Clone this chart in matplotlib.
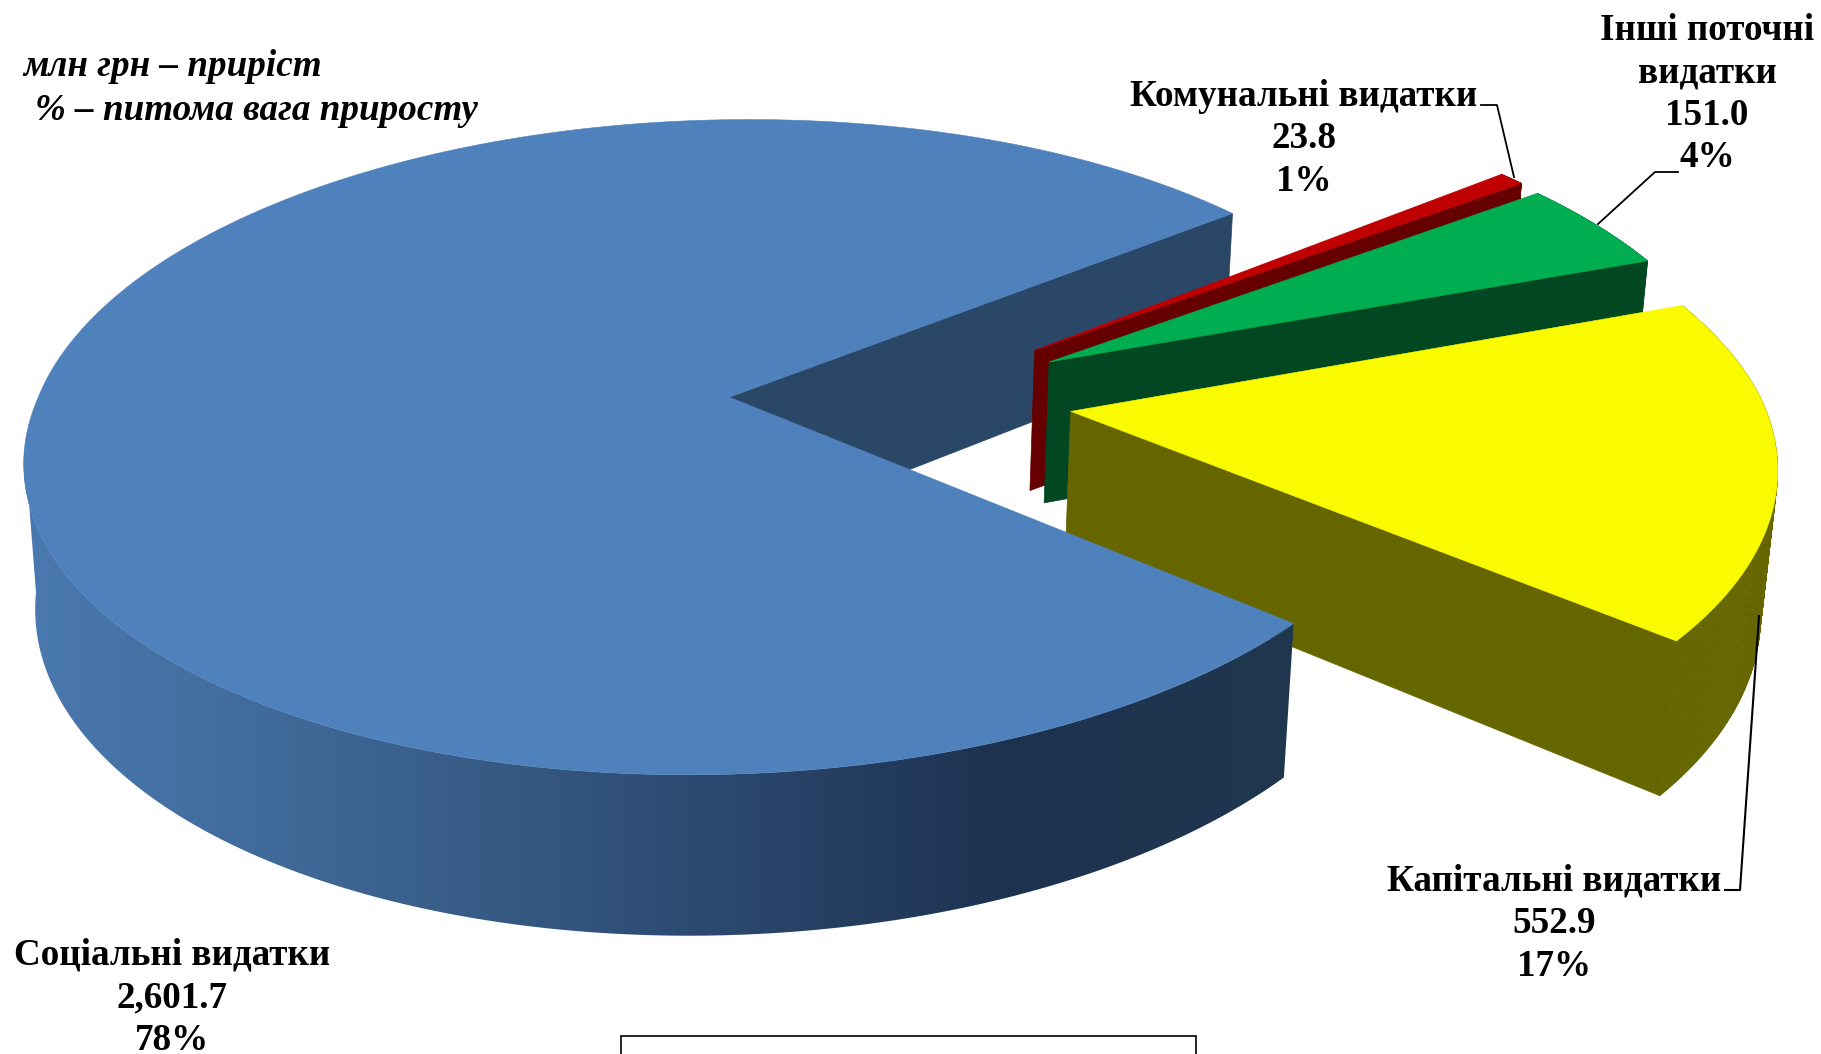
import numpy as np
import matplotlib
matplotlib.use('Agg')
import matplotlib.pyplot as plt
from matplotlib.colors import to_rgb
from matplotlib.patches import Polygon, Rectangle

plt.rcParams['font.family'] = ['Liberation Serif', 'DejaVu Serif']

# Дані діаграми
categorias = ['Соціальні видатки', 'Капітальні видатки', 'Інші поточні\nвидатки', 'Комунальні видатки']
valores = [2601.7, 552.9, 151.0, 23.8]
percentuais = [78, 17, 4, 1]

cores_topo = ['#4f81bd', '#fafa00', '#00ad50', '#c00000']
cores_lado = ['#2b4768', '#666600', '#004722', '#660000']

# deslocamento de cada fatia no plano do disco
explosao = [(0.0, 0.0), (0.493, -0.044), (0.467, 0.112), (0.447, 0.150)]
angulo_inicial = 39.0

# parametros da projecao (pixels)
W, H = 1821, 1054
CX, CY = 729.3, 397.2
RX, RY = 691.0, 320.0
SHEAR_FUNDO, SHEAR_FRENTE, ALTURA = 23.0, 35.0, 145.0
K, M = 0.1525, 0.016


def projetar(x, y, z=0.0):
    x = np.asarray(x, dtype=float)
    y = np.asarray(y, dtype=float)
    s = 1.0 / (1.0 + K * y + M * z)
    shear = np.where(y < 0, SHEAR_FRENTE, SHEAR_FUNDO)
    return np.column_stack([CX + (RX * x + shear * y) * s, CY + (-RY * y + ALTURA * z) * s])


def arco(ini, fim, centro, n=160):
    t = np.radians(np.linspace(ini, fim, n))
    return centro[0] + np.cos(t), centro[1] + np.sin(t)


def parede(xs, ys, cor, ax, zorder):
    # um quadrilatero por trecho, assim a silhueta fecha nas tangentes
    topo = projetar(xs, ys, 0.0)
    baixo = projetar(xs, ys, 1.0)
    for j in range(len(topo) - 1):
        quad = [topo[j], topo[j + 1], baixo[j + 1], baixo[j]]
        ax.add_patch(Polygon(quad, closed=True, facecolor=cor, edgecolor=cor, lw=0.5, zorder=zorder))


fig = plt.figure(figsize=(W / 100, H / 100), dpi=100)
ax = fig.add_axes([0, 0, 1, 1])
ax.axis('off')

# angulos saem dos valores
total = sum(valores)
spans = [v / total * 360 for v in valores]
inicios = [angulo_inicial + sum(spans[:i]) for i in range(len(spans))]

z = 1
# parede interna da fatia principal
cx0, cy0 = explosao[0]
ex, ey = arco(inicios[0], inicios[0], explosao[0], 1)
parede([cx0, ex[0]], [cy0, ey[0]], cores_lado[0], ax, z)

# fatias destacadas, de tras para a frente
for i in [3, 2, 1]:
    z += 1
    c = explosao[i]
    ini, fim = inicios[i], inicios[i] + spans[i]
    ax_x, ax_y = arco(ini, fim, c)
    parede(ax_x, ax_y, cores_lado[i], ax, z)
    parede([c[0], ax_x[0]], [c[1], ax_y[0]], cores_lado[i], ax, z)
    pts = projetar(np.r_[c[0], ax_x], np.r_[c[1], ax_y])
    ax.add_patch(Polygon(pts, closed=True, facecolor=cores_topo[i], edgecolor=cores_topo[i], lw=0.4, zorder=z))

# parede externa com gradiente horizontal, a partir da tangente esquerda
z += 1
gradiente = [(26, '#4a79b0'), (350, '#3d6592'), (700, '#2c4a70'), (1000, '#1d3250'), (1290, '#20374f')]
ini, fim = inicios[0], inicios[0] + spans[0]
tangente = 180 + np.degrees(np.arcsin(K))
fx, fy = arco(max(ini, tangente), fim, explosao[0], 500)
topo = projetar(fx, fy, 0.0)
baixo = projetar(fx, fy, 1.0)
contorno = Polygon(np.vstack([topo, baixo[::-1]]), closed=True, transform=ax.transData, facecolor='none', edgecolor='none')
ax.add_patch(contorno)
xs_grad = np.arange(0, 1300)
faixa = np.stack([np.interp(xs_grad, [p[0] for p in gradiente], [to_rgb(p[1])[c] for p in gradiente]) for c in range(3)], axis=-1)
img = ax.imshow(faixa[np.newaxis, :, :], extent=(0, 1300, 1000, 0), aspect='auto', interpolation='bilinear', zorder=z)
ax.set_xlim(0, W)
ax.set_ylim(H, 0)
img.set_clip_path(contorno)

# topo da fatia principal
z += 1
tx, ty = arco(ini, fim, explosao[0], 500)
pts = projetar(np.r_[explosao[0][0], tx], np.r_[explosao[0][1], ty])
ax.add_patch(Polygon(pts, closed=True, facecolor=cores_topo[0], edgecolor=cores_topo[0], lw=0.4, zorder=z))

# linhas de chamada
z += 1
ax.plot([1481, 1497, 1514], [105, 105, 177], color='black', lw=1.3, zorder=z)
ax.plot([1678, 1655, 1598], [172, 172, 224], color='black', lw=1.3, zorder=z)
ax.plot([1725, 1740, 1759], [890, 890, 616], color='black', lw=1.5, zorder=z)

# rotulos
TAM = 26.7
pos_rotulos = [(172, 955), (1554, 881), (1707, 30), (1304, 96)]
passo = 42.6
for nome, v, p, (x, y) in zip(categorias, valores, percentuais, pos_rotulos):
    linhas = nome.split('\n') + [f'{v:,.1f}', f'{p}%']
    for n, linha in enumerate(linhas):
        ax.text(x, y + n * passo, linha, ha='center', va='center', fontsize=TAM, fontweight='bold', color='black', zorder=z)

ax.text(23, 66, 'млн грн – приріст', ha='left', va='center', fontsize=TAM, fontweight='bold', style='italic', zorder=z)
ax.text(35, 111, '% – питома вага приросту', ha='left', va='center', fontsize=TAM, fontweight='bold', style='italic', zorder=z)

ax.add_patch(Rectangle((621, 1036), 575, 30, facecolor='white', edgecolor='black', lw=1.2, zorder=z))

fig.savefig('out.png', dpi=100)
